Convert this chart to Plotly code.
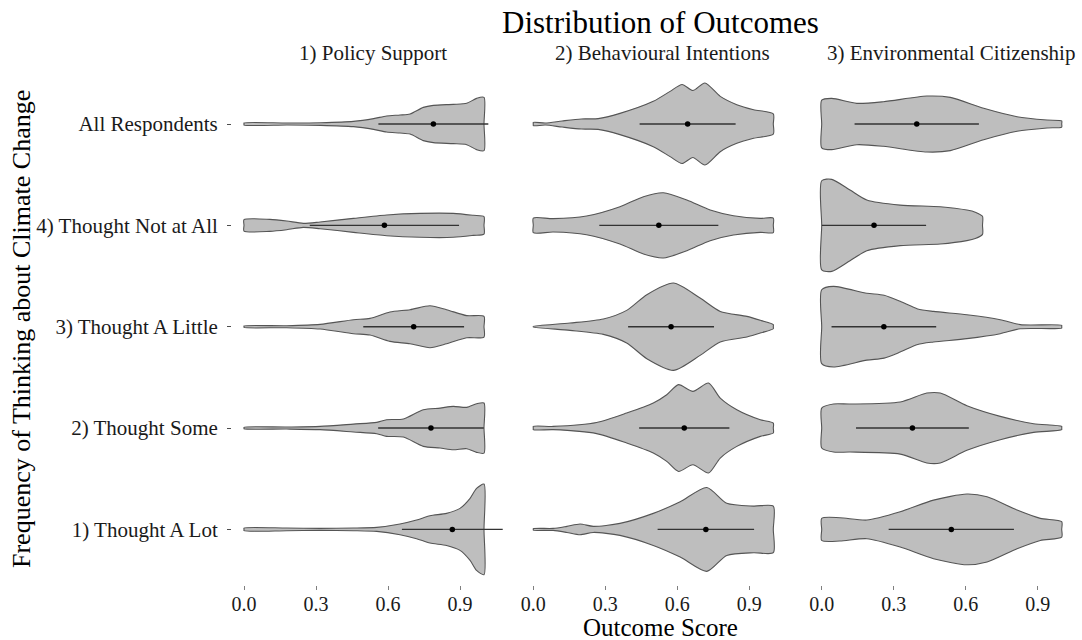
import plotly.graph_objects as go

# ---- categories -------------------------------------------------------------
ROWS = ["All Respondents", "4) Thought Not at All", "3) Thought A Little",
        "2) Thought Some", "1) Thought A Lot"]
ROW_POS = [5, 4, 3, 2, 1]
PANELS = ["1) Policy Support", "2) Behavioural Intentions",
          "3) Environmental Citizenship"]
X_TICKS = [0.0, 0.3, 0.6, 0.9]
X_TICK_TEXT = ["0.0", "0.3", "0.6", "0.9"]

# ---- violin outlines: (outcome score, half-width in row units) -------------
# 1) Policy Support
PS_ALL = [(0.0, 0.01), (0.18, 0.01), (0.32, 0.013), (0.456, 0.026), (0.54, 0.053),
          (0.594, 0.079), (0.65, 0.089), (0.692, 0.099), (0.747, 0.164),
          (0.789, 0.184), (0.872, 0.194), (0.928, 0.204), (0.969, 0.253), (1.0, 0.263)]
PS_NOT = [(0.0, 0.056), (0.108, 0.059), (0.178, 0.043), (0.247, 0.02), (0.317, 0.033),
          (0.456, 0.069), (0.594, 0.102), (0.733, 0.118), (0.872, 0.118),
          (0.956, 0.099), (1.0, 0.086)]
PS_LITTLE = [(0.0, 0.007), (0.178, 0.01), (0.317, 0.023), (0.456, 0.069), (0.525, 0.082),
             (0.608, 0.145), (0.692, 0.168), (0.775, 0.207), (0.844, 0.168),
             (0.928, 0.109), (1.0, 0.102)]
PS_SOME = [(0.0, 0.007), (0.178, 0.01), (0.317, 0.016), (0.456, 0.039), (0.553, 0.056),
           (0.594, 0.082), (0.664, 0.089), (0.747, 0.181), (0.817, 0.197),
           (0.872, 0.214), (0.928, 0.204), (0.969, 0.24), (1.0, 0.247)]
PS_LOT = [(0.0, 0.013), (0.178, 0.013), (0.317, 0.01), (0.456, 0.013), (0.553, 0.02),
          (0.65, 0.053), (0.719, 0.092), (0.775, 0.135), (0.844, 0.158), (0.9, 0.207),
          (0.942, 0.306), (0.969, 0.405), (1.0, 0.447)]

# 2) Behavioural Intentions
BI_ALL = [(0.0, 0.016), (0.05, 0.01), (0.12, 0.03), (0.2, 0.05), (0.27, 0.053),
          (0.361, 0.105), (0.5, 0.224), (0.57, 0.322), (0.62, 0.39), (0.665, 0.33),
          (0.715, 0.405), (0.779, 0.273), (0.848, 0.191), (0.918, 0.141), (1.0, 0.099)]
BI_NOT = [(0.0, 0.072), (0.083, 0.066), (0.222, 0.092), (0.361, 0.184), (0.459, 0.283),
          (0.542, 0.322), (0.64, 0.25), (0.737, 0.151), (0.834, 0.095),
          (0.946, 0.069), (1.0, 0.072)]
BI_LITTLE = [(0.0, 0.003), (0.153, 0.036), (0.292, 0.076), (0.389, 0.161),
             (0.473, 0.316), (0.584, 0.431), (0.695, 0.283), (0.779, 0.151),
             (0.89, 0.102), (0.95, 0.06), (1.0, 0.02)]
BI_SOME = [(0.0, 0.016), (0.083, 0.016), (0.264, 0.055), (0.389, 0.148), (0.5, 0.247),
           (0.556, 0.329), (0.605, 0.428), (0.665, 0.362), (0.73, 0.444),
           (0.779, 0.296), (0.848, 0.181), (0.946, 0.082), (1.0, 0.049)]
BI_LOT = [(0.0, 0.007), (0.083, 0.01), (0.14, 0.03), (0.195, 0.053), (0.25, 0.03),
          (0.361, 0.059), (0.5, 0.158), (0.612, 0.273), (0.723, 0.414),
          (0.806, 0.257), (0.918, 0.23), (1.0, 0.23)]

# 3) Environmental Citizenship
EC_ALL = [(0.0, 0.235), (0.042, 0.253), (0.146, 0.204), (0.257, 0.22), (0.438, 0.276),
          (0.536, 0.263), (0.675, 0.155), (0.814, 0.072), (0.939, 0.039), (1.0, 0.03)]
EC_NOT = [(0.0, 0.44), (0.042, 0.454), (0.118, 0.349), (0.188, 0.25), (0.327, 0.2),
          (0.494, 0.184), (0.605, 0.151), (0.64, 0.13), (0.67, 0.089)]
EC_LITTLE = [(0.0, 0.365), (0.049, 0.398), (0.188, 0.33), (0.26, 0.31), (0.327, 0.25),
             (0.4, 0.175), (0.466, 0.151), (0.605, 0.118), (0.744, 0.069),
             (0.828, 0.02), (1.0, 0.013)]
EC_SOME = [(0.0, 0.197), (0.049, 0.237), (0.118, 0.237), (0.327, 0.257), (0.438, 0.345),
           (0.494, 0.345), (0.605, 0.22), (0.744, 0.115), (0.883, 0.043), (1.0, 0.016)]
EC_LOT = [(0.0, 0.109), (0.076, 0.115), (0.188, 0.092), (0.327, 0.174), (0.466, 0.289),
          (0.605, 0.349), (0.689, 0.322), (0.814, 0.191), (0.911, 0.109), (1.0, 0.076)]

# ---- mean and standard deviation per row (same order as ROWS) ---------------
PS_MEAN = [0.789, 0.585, 0.707, 0.779, 0.868]
PS_SD = [0.229, 0.311, 0.21, 0.22, 0.21]
BI_MEAN = [0.643, 0.523, 0.574, 0.629, 0.719]
BI_SD = [0.2, 0.248, 0.179, 0.188, 0.201]
EC_MEAN = [0.396, 0.218, 0.259, 0.378, 0.54]
EC_SD = [0.259, 0.217, 0.218, 0.235, 0.261]

PROFILES = [
    [PS_ALL, PS_NOT, PS_LITTLE, PS_SOME, PS_LOT],
    [BI_ALL, BI_NOT, BI_LITTLE, BI_SOME, BI_LOT],
    [EC_ALL, EC_NOT, EC_LITTLE, EC_SOME, EC_LOT],
]
MEANS = [PS_MEAN, BI_MEAN, EC_MEAN]
SDS = [PS_SD, BI_SD, EC_SD]

# ---- page geometry (pixels) -------------------------------------------------
W, H = 1082, 640
FONT = "Liberation Serif, Times New Roman, serif"
PX_PER_UNIT = 240.0
X_RANGE = [-0.05, 1.08]
ZERO_PX = [244.0, 533.3, 821.7]          # where score 0 sits in each panel
ROW_TOP_PX, ROW_BOTTOM_PX = 63.2, 590.2   # panel vertical extent

fig = go.Figure()

for p in range(3):
    xa = "x" if p == 0 else "x%d" % (p + 1)
    for r in range(len(ROWS)):
        prof = PROFILES[p][r]
        yc = ROW_POS[r]
        s = [pt[0] for pt in prof]
        w = [pt[1] for pt in prof]
        xs = s + [s[-1]] + s[::-1] + [s[0], s[0]]
        ys = ([yc + v for v in w] + [yc] + [yc - v for v in w[::-1]]
              + [yc, yc + w[0]])
        fig.add_trace(go.Scatter(
            x=xs, y=ys, xaxis=xa, yaxis="y", mode="lines", fill="toself",
            fillcolor="#bebebe",
            line=dict(color="#555555", width=1.1, shape="spline", smoothing=0.7),
            hoverinfo="skip", showlegend=False))

    for r in range(len(ROWS)):
        m, sd = MEANS[p][r], SDS[p][r]
        yc = ROW_POS[r]
        fig.add_trace(go.Scatter(
            x=[m - sd, m + sd], y=[yc, yc], xaxis=xa, yaxis="y", mode="lines",
            line=dict(color="#333333", width=1.4), hoverinfo="skip",
            showlegend=False, cliponaxis=False))
        fig.add_trace(go.Scatter(
            x=[m], y=[yc], xaxis=xa, yaxis="y", mode="markers",
            marker=dict(color="black", size=5.5), hoverinfo="skip",
            showlegend=False, cliponaxis=False))

axis_common = dict(
    range=X_RANGE, showgrid=False, zeroline=False, showline=False,
    tickmode="array", tickvals=X_TICKS, ticktext=X_TICK_TEXT,
    ticks="inside", ticklen=4, tickwidth=1, tickcolor="#7f7f7f",
    tickfont=dict(family=FONT, size=20, color="#1a1a1a"), anchor="y",
    fixedrange=True,
)
layout_axes = {}
panel_centers = []
for p in range(3):
    left = ZERO_PX[p] + X_RANGE[0] * PX_PER_UNIT
    right = ZERO_PX[p] + X_RANGE[1] * PX_PER_UNIT
    name = "xaxis" if p == 0 else "xaxis%d" % (p + 1)
    layout_axes[name] = dict(axis_common, domain=[left / W, right / W])
    panel_centers.append(ZERO_PX[p] + 0.539 * PX_PER_UNIT)

fig.update_layout(
    width=W, height=H, margin=dict(l=0, r=0, t=0, b=0),
    paper_bgcolor="white", plot_bgcolor="white",
    font=dict(family=FONT, color="black"),
    showlegend=False,
    yaxis=dict(
        domain=[1 - ROW_BOTTOM_PX / H, 1 - ROW_TOP_PX / H], range=[0.4, 5.6],
        anchor="x", showgrid=False, zeroline=False, showline=False,
        tickmode="array", tickvals=ROW_POS, ticktext=ROWS,
        ticks="outside", ticklen=4, tickwidth=1, tickcolor="#4d4d4d",
        ticklabelstandoff=5,
        tickfont=dict(family=FONT, size=21, color="#1a1a1a"), fixedrange=True,
    ),
    **layout_axes,
)

annotations = [
    dict(text="Distribution of Outcomes", x=660 / W, y=1 - 23 / H, xref="paper",
         yref="paper", xanchor="center", yanchor="middle", showarrow=False,
         font=dict(family=FONT, size=31, color="black")),
    dict(text="Outcome Score", x=660 / W, y=1 - 627 / H, xref="paper", yref="paper",
         xanchor="center", yanchor="middle", showarrow=False,
         font=dict(family=FONT, size=25, color="black")),
    dict(text="Frequency of Thinking about Climate Change", x=21 / W,
         y=1 - 329 / H, xref="paper", yref="paper", textangle=-90,
         xanchor="center", yanchor="middle", showarrow=False,
         font=dict(family=FONT, size=26, color="black")),
]
for p in range(3):
    annotations.append(dict(
        text=PANELS[p], x=panel_centers[p] / W, y=1 - 53 / H, xref="paper",
        yref="paper", xanchor="center", yanchor="middle", showarrow=False,
        font=dict(family=FONT, size=21, color="#1a1a1a")))
fig.update_layout(annotations=annotations)

fig.write_html("out.html")
